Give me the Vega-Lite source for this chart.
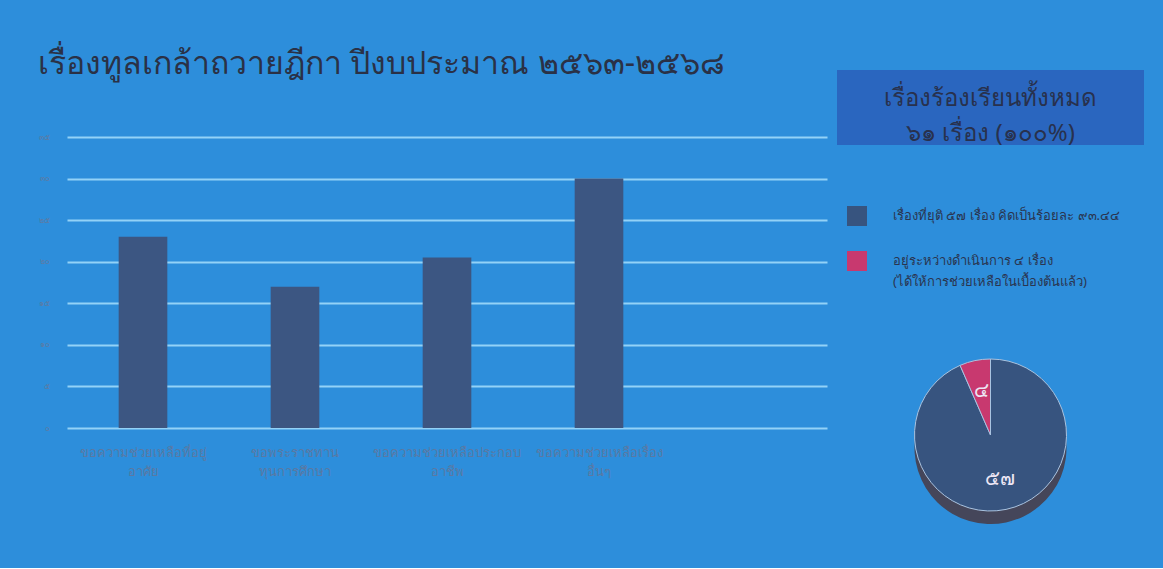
{
  "$schema": "https://vega.github.io/schema/vega-lite/v6.json",
  "background": "#2d8edb",
  "padding": {"left": 38, "top": 48, "right": 19, "bottom": 33},
  "config": {"view": {"stroke": null}, "font": "Noto Sans", "style": {"guide-label": {"lineHeight": 21}}},
  "spacing": 10,
  "resolve": {"legend": {"color": "independent"}, "scale": {"color": "independent"}},
  "datasets": {
    "bars": [
      {"category": "ขอความช่วยเหลือที่อยู่|อาศัย", "count": 23},
      {"category": "ขอพระราชทาน|ทุนการศึกษา", "count": 17},
      {"category": "ขอความช่วยเหลือประกอบ|อาชีพ", "count": 20.5},
      {"category": "ขอความช่วยเหลือเรื่อง|อื่นๆ", "count": 30}
    ],
    "pie": [
      {"status": "เรื่องที่ยุติ ๕๗ เรื่อง คิดเป็นร้อยละ ๙๓.๔๔", "count": 57, "label": "๕๗"},
      {"status": "อยู่ระหว่างดำเนินการ ๔ เรื่อง|(ได้ให้การช่วยเหลือในเบื้องต้นแล้ว)", "count": 4, "label": "๔"}
    ],
    "box": [
      {"text": "เรื่องร้องเรียนทั้งหมด\n๖๑ เรื่อง (๑๐๐%)"}
    ]
  },
  "hconcat": [
    {
      "data": {"name": "bars"},
      "title": {"text": "เรื่องทูลเกล้าถวายฎีกา ปีงบประมาณ ๒๕๖๓-๒๕๖๘", "anchor": "start", "fontSize": 32, "fontWeight": "normal", "color": "#2a3146", "offset": -11},
      "width": {"step": 152},
      "height": 358,
      "mark": {"type": "bar", "color": "#3c5682"},
      "encoding": {
        "x": {
          "field": "category", "type": "nominal", "sort": null,
          "scale": {"domain": ["ขอความช่วยเหลือที่อยู่|อาศัย", "ขอพระราชทาน|ทุนการศึกษา", "ขอความช่วยเหลือประกอบ|อาชีพ", "ขอความช่วยเหลือเรื่อง|อื่นๆ", ""], "paddingInner": 0.68, "paddingOuter": 0.34},
          "axis": {"title": null, "labelAngle": 0, "labelExpr": "split(datum.label, '|')", "domain": false, "ticks": false, "labelFontSize": 13, "labelColor": "#5a79a3", "labelPadding": 18, "labelLineHeight": 19}
        },
        "y": {
          "field": "count", "type": "quantitative",
          "scale": {"domain": [0, 43.06], "nice": false},
          "axis": {"title": null, "values": [0, 5, 10, 15, 20, 25, 30, 35], "labelExpr": "['๐','๕','๑๐','๑๕','๒๐','๒๕','๓๐','๓๕'][datum.value / 5]", "grid": true, "gridColor": "#93d2f7", "gridWidth": 2, "domain": false, "ticks": false, "labelFontSize": 8, "labelColor": "#5b7ca6", "labelPadding": 18}
        }
      }
    },
    {
      "spacing": 50,
      "resolve": {"legend": {"color": "independent"}, "scale": {"color": "independent"}},
      "vconcat": [
        {
          "data": {"name": "box"},
          "width": 307,
          "height": 75,
          "view": {"fill": "#2a66bf", "stroke": null},
          "mark": {"type": "text", "fontSize": 24, "color": "#28314d", "lineBreak": "\n", "lineHeight": 35, "align": "center", "baseline": "middle", "dy": -9},
          "encoding": {"text": {"field": "text"}}
        },
        {
          "data": {"name": "pie"},
          "width": 307,
          "height": 200,
          "layer": [
            {
              "mark": {"type": "arc", "radius": 76, "yOffset": 13, "color": "#45465a"},
              "encoding": {
                "theta": {"field": "count", "type": "quantitative", "stack": true},
                "detail": {"field": "status"},
                "order": {"field": "count", "sort": "descending"}
              }
            },
            {
              "mark": {"type": "arc", "radius": 76, "stroke": "#a9c3e0", "strokeWidth": 1},
              "encoding": {
                "theta": {"field": "count", "type": "quantitative", "stack": true},
                "order": {"field": "count", "sort": "descending"},
                "color": {
                  "field": "status", "type": "nominal",
                  "scale": {"domain": ["เรื่องที่ยุติ ๕๗ เรื่อง คิดเป็นร้อยละ ๙๓.๔๔", "อยู่ระหว่างดำเนินการ ๔ เรื่อง|(ได้ให้การช่วยเหลือในเบื้องต้นแล้ว)"], "range": ["#37547f", "#c8396f"]},
                  "legend": {"orient": "top", "direction": "vertical", "title": null, "padding": 10, "symbolType": "square", "symbolSize": 400, "symbolStrokeWidth": 0, "symbolOpacity": 1, "labelFontSize": 13, "labelColor": "#2a3550", "labelExpr": "split(datum.label, '|')", "labelLimit": 300, "rowPadding": 25, "labelOffset": 26, "offset": 36}
                }
              }
            },
            {
              "mark": {"type": "text", "radius": 45, "fontSize": 20, "color": "#ece6f4"},
              "encoding": {
                "theta": {"field": "count", "type": "quantitative", "stack": true},
                "detail": {"field": "status"},
                "order": {"field": "count", "sort": "descending"},
                "text": {"field": "label"}
              }
            }
          ]
        }
      ]
    }
  ]
}
